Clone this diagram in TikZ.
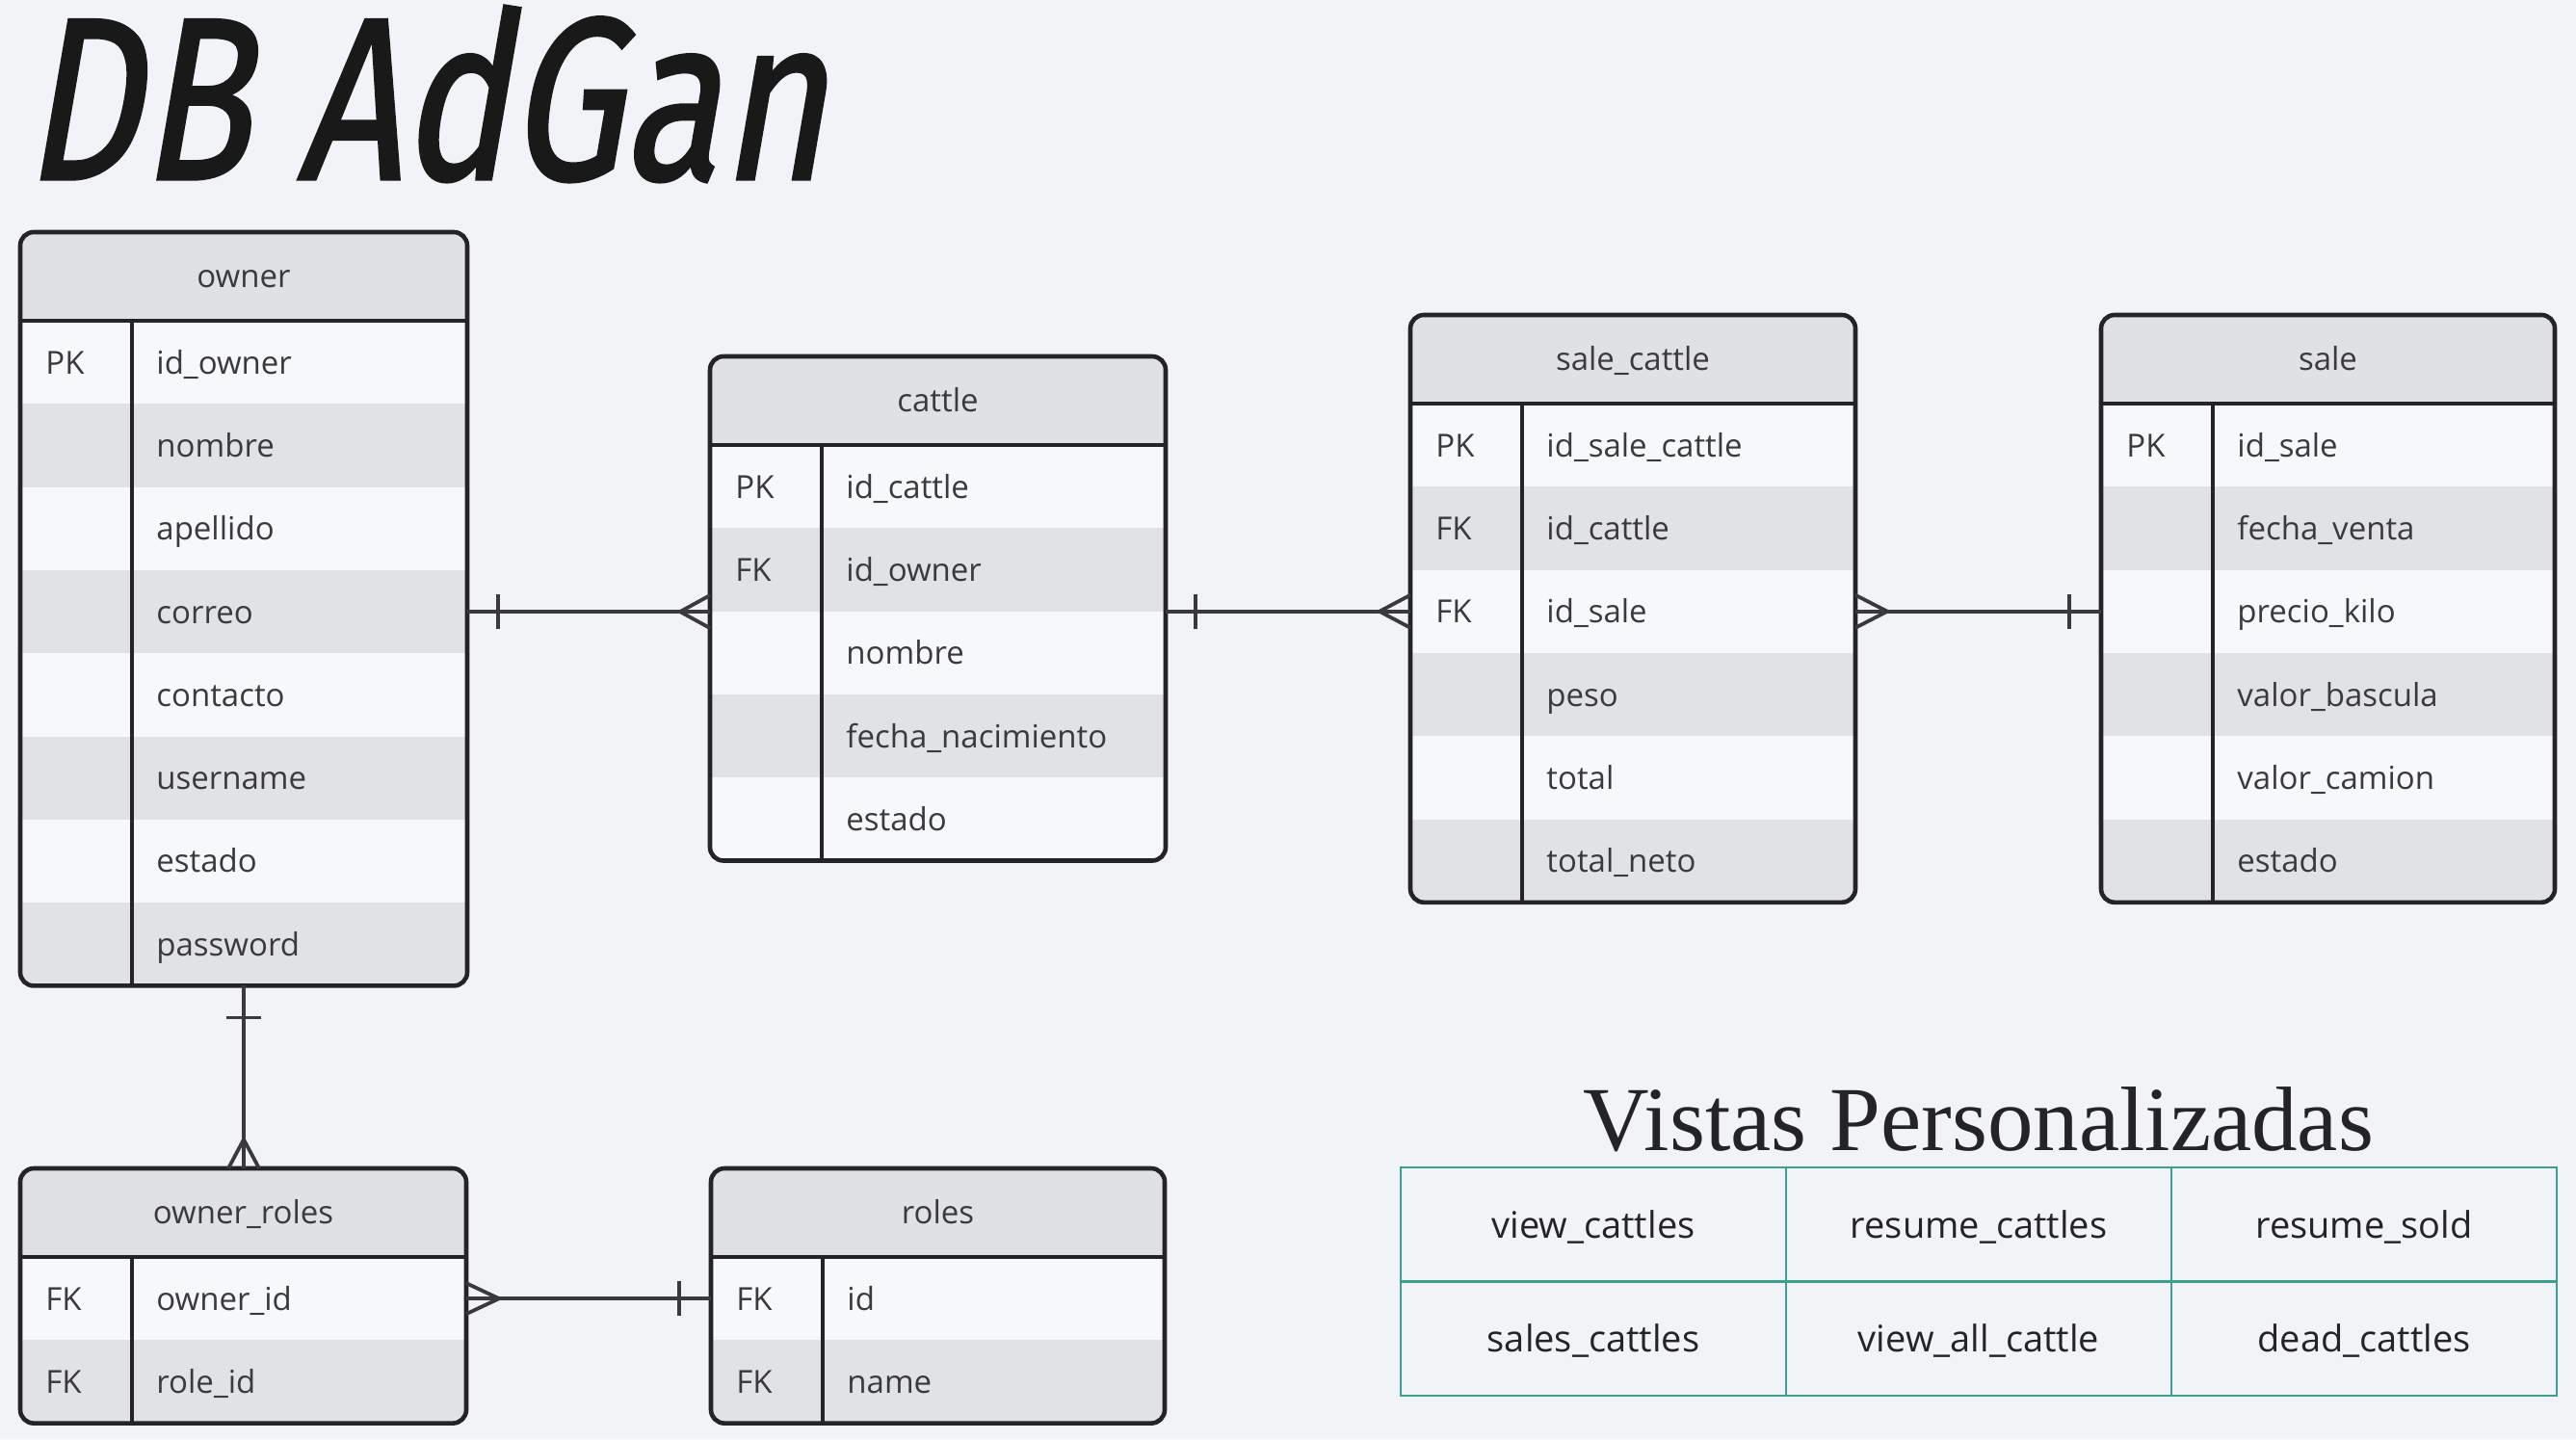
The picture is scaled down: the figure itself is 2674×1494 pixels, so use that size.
\documentclass[tikz,border=0pt]{standalone}
\usepackage{fontspec}
\newfontfamily\tablefont{Open Sans}
\newfontfamily\handfont{Fira Sans}[FakeSlant=0.22, FakeBold=1.4]
\newfontfamily\viewsfont{Liberation Serif}
\usetikzlibrary{calc}

\definecolor{paper}{RGB}{242,243,246}
\definecolor{headfill}{RGB}{224,225,229}
\definecolor{rowlight}{RGB}{247,248,251}
\definecolor{rowdark}{RGB}{225,226,230}
\definecolor{ink}{RGB}{36,36,38}
\definecolor{txt}{RGB}{58,58,62}
\definecolor{viewteal}{RGB}{60,160,140}

\def\px{0.5pt}
\def\headh{92}
\def\rowh{86.3}
\def\keysep{116}

% #1 name, #2 left, #3 top, #4 width, #5 rows, #6 title, #7 key/field list
\newcommand{\erdtable}[7]{
    \begin{scope}
        \clip[rounded corners=7pt] (#2,#3) rectangle ++(#4,{\headh+#5*\rowh});
        \node[head, minimum width=#4*\px, anchor=north west] (#1) at (#2,#3) {};
        \node[headtext] (#1-title) at ($(#1.center)+(0,11)$) {#6};
        \foreach \i/\k/\f in {#7} {
            \ifodd\i\relax \def\rowfill{rowlight}\else \def\rowfill{rowdark}\fi
            \node[field, fill=\rowfill, minimum width=#4*\px, anchor=north west]
                (#1-\i) at (#2,{#3+\headh+(\i-1)*\rowh}) {};
            \node[fieldtext] (#1-\i-key) at ($(#1-\i.west)+(26,12)$) {\k};
            \node[fieldtext] (#1-\i-name) at ($(#1-\i.west)+(\keysep+25,12)$) {\f};
        }
    \end{scope}
    \draw[frame] (#1.south west) -- (#1.south east);
    \draw[keyline] ($(#1.south west)+(\keysep,0)$) -- ++(0,{#5*\rowh});
    \draw[frame, rounded corners=7pt] (#2,#3) rectangle ++(#4,{\headh+#5*\rowh});
}

\begin{document}
\begin{tikzpicture}[x=\px, y=-\px]
    \tikzstyle{frame}=[draw=ink, line width=2.3pt]
    \tikzstyle{keyline}=[draw=ink, line width=1.8pt]
    \tikzstyle{conn}=[draw=ink!90, line width=1.9pt]
    \tikzstyle{head}=[rectangle, fill=headfill, inner sep=0pt, outer sep=0pt, minimum height=\headh*\px]
    \tikzstyle{field}=[rectangle, inner sep=0pt, outer sep=0pt, minimum height=\rowh*\px]
    \tikzstyle{headtext}=[inner sep=0pt, anchor=base, text=txt, font=\tablefont\fontsize{16.5}{20}\selectfont]
    \tikzstyle{fieldtext}=[headtext, anchor=base west]
    \tikzstyle{viewcell}=[rectangle, draw=viewteal, line width=1.4pt, minimum width=400*\px, minimum height=118.5*\px,
        text=ink, text height=16pt, text depth=2pt, font=\tablefont\fontsize{19}{23}\selectfont]

    \useasboundingbox (0,0) rectangle (2674,1494);
    \fill[paper] (0,0) rectangle (2674,1494);

    \node[anchor=base west, inner sep=0pt, text=black!90] (title) at (24,186)
        {\scalebox{0.78}[1]{\handfont\fontsize{120}{130}\selectfont DB AdGan}};

    % Tables
    \erdtable{owner}{21}{241}{464}{8}{owner}{1/PK/id\_owner, 2//nombre, 3//apellido, 4//correo,
        5//contacto, 6//username, 7//estado, 8//password}
    \erdtable{cattle}{737}{370}{473}{5}{cattle}{1/PK/id\_cattle, 2/FK/id\_owner, 3//nombre,
        4//fecha\_nacimiento, 5//estado}
    \erdtable{salecattle}{1464}{327}{462}{6}{sale\_cattle}{1/PK/id\_sale\_cattle, 2/FK/id\_cattle,
        3/FK/id\_sale, 4//peso, 5//total, 6//total\_neto}
    \erdtable{sale}{2181}{327}{471}{6}{sale}{1/PK/id\_sale, 2//fecha\_venta, 3//precio\_kilo,
        4//valor\_bascula, 5//valor\_camion, 6//estado}
    \erdtable{ownerroles}{21}{1213}{463}{2}{owner\_roles}{1/FK/owner\_id, 2/FK/role\_id}
    \erdtable{roles}{738}{1213}{471}{2}{roles}{1/FK/id, 2/FK/name}

    % owner (one) to cattle (many)
    \draw[conn] (owner-4.east) -- (owner-4.east -| cattle.west);
    \draw[conn] ($(owner-4.east)+(32,-18)$) -- ++(0,36);
    \draw[conn] ($(owner-4.east -| cattle.west)+(0,-17)$) -- ++(-31,17) -- ++(31,17);

    % cattle (one) to sale_cattle (many)
    \draw[conn] (cattle.east |- salecattle-3.west) -- (salecattle-3.west);
    \draw[conn] ($(cattle.east |- salecattle-3.west)+(31,-18)$) -- ++(0,36);
    \draw[conn] ($(salecattle-3.west)+(0,-17)$) -- ++(-32,17) -- ++(32,17);

    % sale_cattle (many) to sale (one)
    \draw[conn] (salecattle-3.east) -- (sale-3.west);
    \draw[conn] ($(salecattle-3.east)+(0,-17)$) -- ++(33,17) -- ++(-33,17);
    \draw[conn] ($(sale-3.west)+(-33,-18)$) -- ++(0,36);

    % owner (one) to owner_roles (many)
    \draw[conn] (owner-8.south) -- (owner-8.south |- ownerroles.north);
    \draw[conn] ($(owner-8.south)+(-18,33)$) -- ++(36,0);
    \draw[conn] ($(owner-8.south |- ownerroles.north)+(-16,0)$) -- ++(16,-30) -- ++(16,30);

    % owner_roles (many) to roles (one)
    \draw[conn] (ownerroles-1.east) -- (roles-1.west);
    \draw[conn] ($(ownerroles-1.east)+(0,-16)$) -- ++(34,16) -- ++(-34,16);
    \draw[conn] ($(roles-1.west)+(-33,-18)$) -- ++(0,36);

    % Custom views
    \node[anchor=base, inner sep=0pt, text=ink, font=\viewsfont\fontsize{47.5}{54}\selectfont] (vistas) at (2054,1194)
        {Vistas Personalizadas};
    \foreach \r/\c/\name in {1/1/view\_cattles, 1/2/resume\_cattles, 1/3/resume\_sold,
        2/1/sales\_cattles, 2/2/view\_all\_cattle, 2/3/dead\_cattles}
        \node[viewcell] (view-\r-\c) at ({1454+(\c-0.5)*400}, {1212+(\r-0.5)*118.5}) {\name};

\end{tikzpicture}
\end{document}
